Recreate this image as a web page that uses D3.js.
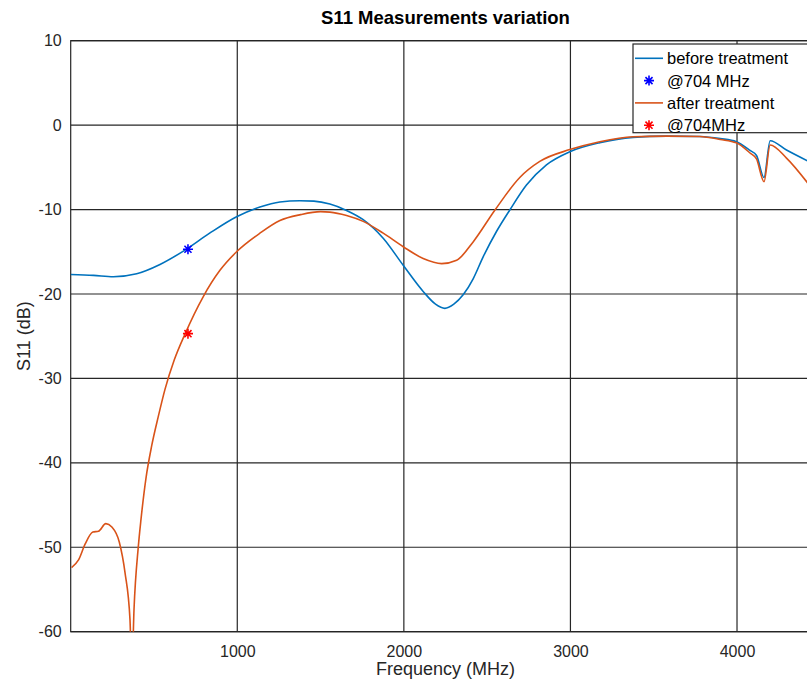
<!DOCTYPE html>
<html>
<head>
<meta charset="utf-8">
<script src="https://cdn.jsdelivr.net/npm/d3@7"></script>
<style>
  body { margin: 0; background: #fff; }
  svg { display: block; font-family: "Liberation Sans", Arial, sans-serif; }
  .gridline { stroke: #262626; stroke-width: 1.2; }
  .tick text { fill: #262626; font-size: 16px; }
</style>
</head>
<body>
<svg id="s11_chart"></svg>
<script>
// Data
var freq_before = [0, 137, 256, 396, 536, 686, 834, 996, 1136, 1256, 1375, 1460, 1556, 1656, 1756, 1876, 1996, 2116, 2190, 2246, 2300, 2356, 2416, 2476, 2556, 2636, 2736, 2856, 2996, 3176, 3376, 3577, 3777, 3900, 3996, 4078, 4117, 4162, 4199, 4297, 4430];
var s11_before = [-17.7, -17.8, -17.95, -17.6, -16.5, -14.8, -12.8, -10.85, -9.7, -9.1, -8.95, -9.0, -9.35, -10.1, -11.2, -13.4, -16.6, -19.7, -21.2, -21.7, -21.2, -20.1, -18.2, -15.6, -12.6, -10.05, -7.1, -4.7, -3.15, -2.08, -1.45, -1.3, -1.35, -1.6, -1.96, -3.0, -3.6, -6.2, -1.85, -2.95, -4.3];

var freq_after = [5, 47, 87, 133, 167, 211, 247, 292, 326, 356, 367, 380, 406, 422, 452, 486, 526, 566, 622, 686, 796, 896, 996, 1136, 1256, 1380, 1500, 1556, 1656, 1756, 1876, 1996, 2116, 2227, 2317, 2417, 2547, 2696, 2816, 2996, 3176, 3376, 3577, 3777, 3900, 3996, 4078, 4117, 4162, 4199, 4297, 4430];
var s11_after = [-52.4, -51.5, -49.6, -48.2, -48.1, -47.2, -47.6, -49.4, -53.0, -58.6, -65, -57.4, -49.9, -46.7, -41.8, -38.0, -34.5, -31.3, -27.8, -24.75, -20.3, -17.2, -15.0, -12.8, -11.3, -10.6, -10.25, -10.3, -10.7, -11.4, -12.8, -14.4, -15.8, -16.4, -16.0, -13.8, -10.05, -6.2, -4.3, -2.9, -1.96, -1.37, -1.3, -1.35, -1.7, -2.1, -3.3, -4.0, -6.7, -2.35, -3.9, -7.0];

var markers = [
  {"freq": 704, "s11": -14.7, "color": "#0000ff"},
  {"freq": 704, "s11": -24.7, "color": "#ff0000"}
];

var legend_labels = ["before treatment", "@704 MHz", "after treatment", "@704MHz"];
var x_ticks = [1000, 2000, 3000, 4000];
var y_ticks = [10, 0, -10, -20, -30, -40, -50, -60];

var width = 807;
var height = 681;
var margin = {"top": 40.7, "left": 70.7};
var plot_w = 749.6;
var plot_h = 591;

var blue = "#0072bd";
var orange = "#d95319";

var svg = d3.select("svg#s11_chart")
  .attr("width", width)
  .attr("height", height);

var g = svg.append("g")
  .attr("transform", "translate(" + margin.left + "," + margin.top + ")");

var xScale = d3.scaleLinear().domain([0, 4500]).range([0, plot_w]);
var yScale = d3.scaleLinear().domain([-60, 10]).range([plot_h, 0]);

g.append("clipPath")
  .attr("id", "plot_clip")
  .append("rect")
  .attr("width", plot_w)
  .attr("height", plot_h);

// grid lines
g.selectAll("line.xgrid")
  .data(x_ticks)
  .enter()
  .append("line")
  .attr("class", "gridline")
  .attr("x1", function(d) { return xScale(d); })
  .attr("x2", function(d) { return xScale(d); })
  .attr("y1", 0)
  .attr("y2", plot_h);

g.selectAll("line.ygrid")
  .data(y_ticks)
  .enter()
  .append("line")
  .attr("class", "gridline")
  .attr("x1", 0)
  .attr("x2", plot_w)
  .attr("y1", function(d) { return yScale(d); })
  .attr("y2", function(d) { return yScale(d); });

// axes, tick labels only (plain hyphen for the minus sign)
var plain = function(d) { return String(d); };

var xAxis = d3.axisBottom(xScale).tickValues(x_ticks).tickFormat(plain).tickSize(0).tickPadding(14);
g.append("g")
  .attr("class", "xAxis")
  .attr("transform", "translate(0," + plot_h + ")")
  .call(xAxis)
  .select(".domain").remove();

var yAxis = d3.axisLeft(yScale).tickValues(y_ticks).tickFormat(plain).tickSize(0).tickPadding(9);
g.append("g")
  .attr("class", "yAxis")
  .call(yAxis)
  .select(".domain").remove();

// box
g.append("rect")
  .attr("width", plot_w)
  .attr("height", plot_h)
  .attr("fill", "none")
  .attr("stroke", "#262626")
  .attr("stroke-width", 1.2);

var line = d3.line()
  .x(function(d) { return xScale(d[0]); })
  .y(function(d) { return yScale(d[1]); })
  .curve(d3.curveMonotoneX);

var plot = g.append("g").attr("clip-path", "url(#plot_clip)");

plot.append("path")
  .attr("d", line(d3.zip(freq_before, s11_before)))
  .attr("fill", "none")
  .attr("stroke", blue)
  .attr("stroke-width", 1.6);

plot.append("path")
  .attr("d", line(d3.zip(freq_after, s11_after)))
  .attr("fill", "none")
  .attr("stroke", orange)
  .attr("stroke-width", 1.6);

// 8 point asterisk like the matlab '*' marker
var asterisk = {
  draw: function(ctx, size) {
    var r = Math.sqrt(size) / 2;
    var k = r * Math.SQRT1_2;
    ctx.moveTo(-r, 0); ctx.lineTo(r, 0);
    ctx.moveTo(0, -r); ctx.lineTo(0, r);
    ctx.moveTo(-k, -k); ctx.lineTo(k, k);
    ctx.moveTo(-k, k); ctx.lineTo(k, -k);
  }
};
var star = d3.symbol().type(asterisk).size(100);

plot.selectAll("path.marker")
  .data(markers)
  .enter()
  .append("path")
  .attr("class", "marker")
  .attr("d", star)
  .attr("transform", function(d) { return "translate(" + xScale(d.freq) + "," + yScale(d.s11) + ")"; })
  .attr("fill", "none")
  .attr("stroke", function(d) { return d.color; })
  .attr("stroke-width", 1.6);

// titles
svg.append("text")
  .attr("x", margin.left + plot_w / 2)
  .attr("y", 23.5)
  .style("text-anchor", "middle")
  .style("font-size", "18.5px")
  .style("font-weight", "bold")
  .attr("fill", "#000")
  .text("S11 Measurements variation");

svg.append("text")
  .attr("x", margin.left + plot_w / 2)
  .attr("y", 675)
  .style("text-anchor", "middle")
  .style("font-size", "18px")
  .attr("fill", "#262626")
  .text("Frequency (MHz)");

svg.append("text")
  .attr("transform", "rotate(-90)")
  .attr("x", -(margin.top + plot_h / 2))
  .attr("y", 30)
  .style("text-anchor", "middle")
  .style("font-size", "18px")
  .attr("fill", "#262626")
  .text("S11 (dB)");

// legend
var legend = svg.append("g")
  .attr("class", "legend")
  .attr("transform", "translate(633,44)");

legend.append("rect")
  .attr("width", 200)
  .attr("height", 88.7)
  .attr("fill", "#fff")
  .attr("stroke", "#262626")
  .attr("stroke-width", 1.2);

var legend_el = legend.selectAll("g.legend_el")
  .data(legend_labels)
  .enter()
  .append("g")
  .attr("class", "legend_el")
  .attr("transform", function(d, i) { return "translate(0," + (14.3 + i * 22.3) + ")"; });

legend_el.filter(function(d, i) { return i % 2 == 0; })
  .append("line")
  .attr("x1", 2)
  .attr("x2", 30)
  .attr("stroke", function(d, i) { return i == 0 ? blue : orange; })
  .attr("stroke-width", 1.6);

legend_el.filter(function(d, i) { return i % 2 == 1; })
  .append("path")
  .attr("d", star)
  .attr("transform", "translate(16,0)")
  .attr("fill", "none")
  .attr("stroke", function(d, i) { return markers[i].color; })
  .attr("stroke-width", 1.6);

legend_el.append("text")
  .attr("x", 34)
  .attr("dy", "0.36em")
  .style("font-size", "16.5px")
  .attr("fill", "#000")
  .text(function(d) { return d; });
</script>
</body>
</html>
